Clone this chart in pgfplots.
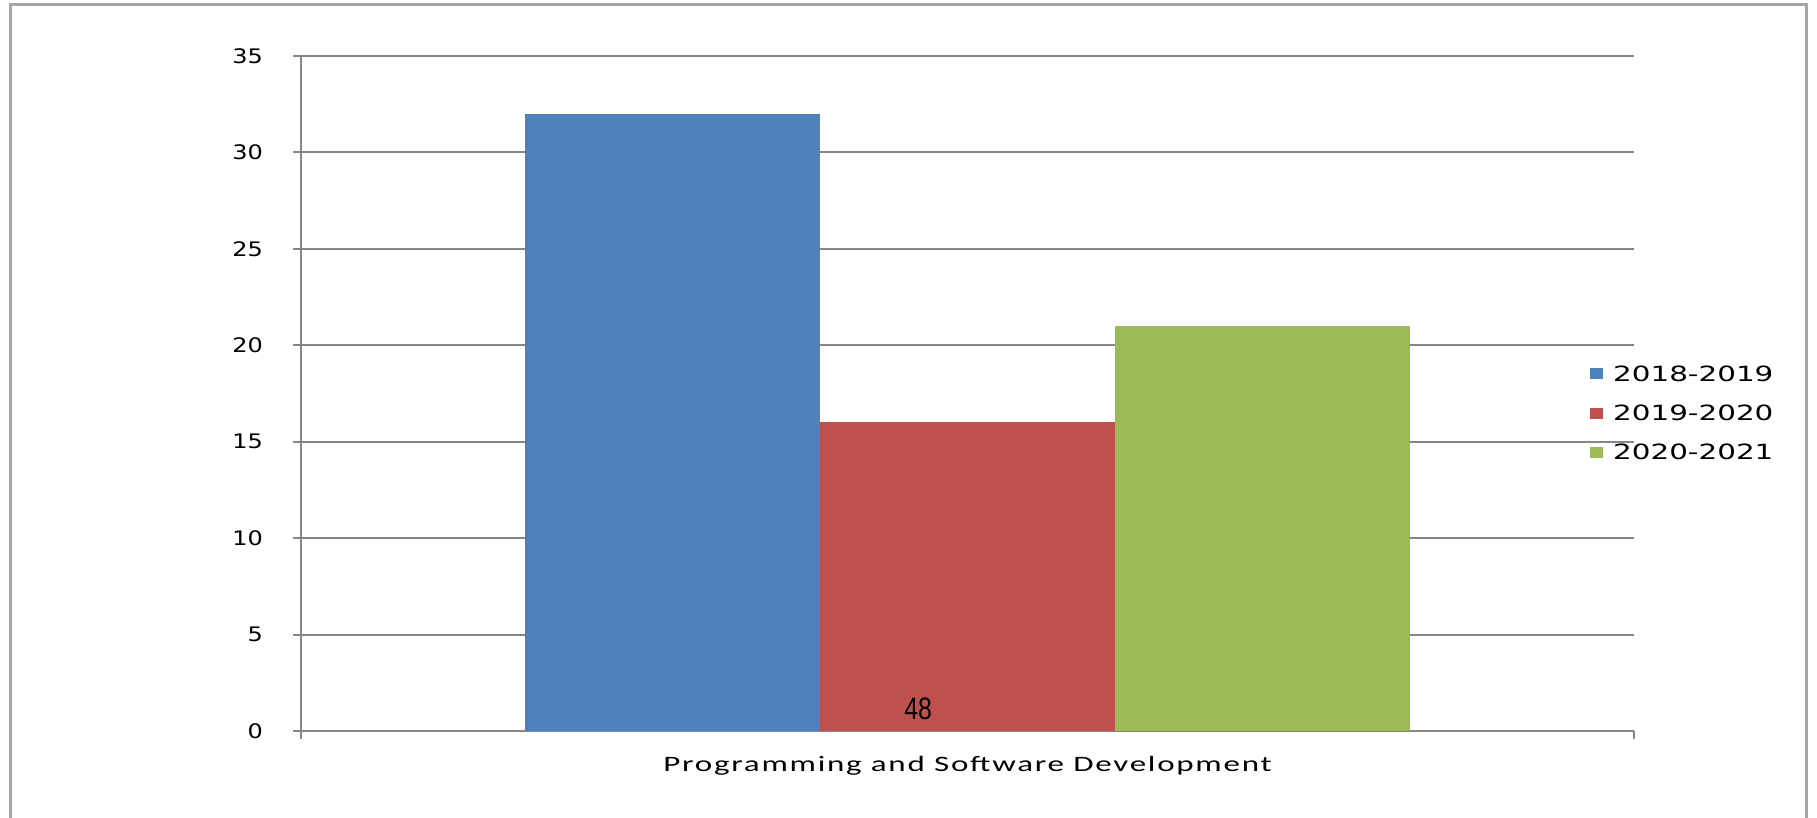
\documentclass[border=0pt]{standalone}
\usepackage{fontspec}
\setmainfont{DejaVu Sans}[FakeStretch=1.2]
\newfontfamily\lgfont{DejaVu Sans}[FakeStretch=1.4]
\newfontfamily\catfont{Carlito}[FakeStretch=1.5, LetterSpace=8]
\newfontfamily\numfont{Liberation Sans}[FakeStretch=0.8]
\usepackage{pgfplots}
\pgfplotsset{compat=1.18}
\definecolor{cBlue}{HTML}{4F81BD}
\definecolor{cRed}{HTML}{C0504D}
\definecolor{cGreen}{HTML}{9BBB59}
\definecolor{cAxis}{HTML}{868686}
\begin{document}
\begin{tikzpicture}
\useasboundingbox (0pt,0pt) rectangle (1817pt,818pt);
\draw[color=black!35, line width=3pt] (10pt,0pt) -- (10pt,813pt) -- (1806pt,813pt) -- (1806pt,0pt);
\begin{axis}[
  at={(301pt,87pt)}, anchor=south west,
  scale only axis, width=1333pt, height=675pt,
  xmin=-1, xmax=1, ymin=0, ymax=35,
  ybar=0pt, bar width=295pt,
  axis x line*=bottom, axis y line*=left,
  axis line style={cAxis, line width=2pt, -},
  ymajorgrids, grid style={cAxis, line width=2pt},
  ytick={0,5,...,35},
  xtick={-1,1}, xticklabels={,},
  extra x ticks={0},
  extra x tick labels={\catfont\fontsize{22}{24}\selectfont Programming and Software Development},
  extra x tick style={major tick length=0pt, tick label style={yshift=-22pt}},
  tick align=outside, major tick length=8pt,
  tick style={cAxis, line width=2pt},
  /pgf/number format/assume math mode=true,
  tick label style={font=\fontsize{20}{22}\selectfont, black},
  yticklabel style={inner sep=0pt, xshift=-30pt},
  legend style={at={(0.967,0.471)}, anchor=west, draw=none, fill=none,
    font=\lgfont\fontsize{21}{22}\selectfont, row sep=22pt, inner sep=0pt,
    nodes={inner sep=0pt, anchor=west}},
  legend cell align=left,
  legend image code/.code={\fill[#1] (0pt,-5.5pt) rectangle (13pt,5.5pt);},
  /tikz/every even column/.append style={column sep=0pt},
]
\addplot[fill=cBlue, draw=none] coordinates {(0,32)};
\addplot[fill=cRed, draw=none] coordinates {(0,16)};
\addplot[fill=cGreen, draw=none] coordinates {(0,21)};
\legend{\hspace{10pt}2018-2019,\hspace{10pt}2019-2020,\hspace{10pt}2020-2021}
\node[font=\numfont\fontsize{31}{31}\selectfont] at (axis cs:-0.074,1.14) {48};
\end{axis}
\end{tikzpicture}
\end{document}
